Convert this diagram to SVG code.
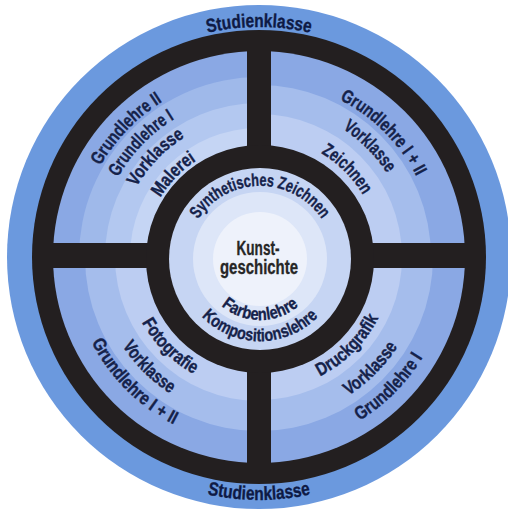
<svg xmlns="http://www.w3.org/2000/svg" xmlns:xlink="http://www.w3.org/1999/xlink" width="508" height="509" viewBox="0 0 508 509">
<style>
.lbl{font-family:"Liberation Sans",Arial,sans-serif;font-weight:bold;fill:#15224a;stroke:#15224a;stroke-width:0.35px;font-size:18.5px}
.inn{font-size:17.5px}
.stud{font-size:19px;fill:#0e1a45;stroke:#0e1a45}
.kg{font-family:"Liberation Sans",Arial,sans-serif;font-weight:bold;fill:#262626;stroke:#262626;stroke-width:0.3px;font-size:19.5px}
.blk{fill:#231f20}
</style>
<defs>
<clipPath id="qUL"><rect x="0" y="0" width="259" height="257"/></clipPath>
<clipPath id="qUR"><rect x="259" y="0" width="249" height="257"/></clipPath>
<clipPath id="qLL"><rect x="0" y="257" width="259" height="252"/></clipPath>
<clipPath id="qLR"><rect x="259" y="257" width="249" height="252"/></clipPath>
<path id="pStudTop" d="M59.8,142 A230,230 0 0 1 458.2,142"/>
<path id="pStudBot" d="M48.6,378.5 A243,243 0 0 0 469.4,378.5"/>
<path id="ul1" d="M79.4,291.9 A183,183 0 0 1 287.6,76.3"/>
<path id="ul2" d="M100,287.9 A162,162 0 0 1 284.3,97"/>
<path id="ul3" d="M120.6,283.9 A141,141 0 0 1 281.1,117.7"/>
<path id="ul4" d="M146.1,278.9 A115,115 0 0 1 277,143.4"/>
<path id="ur1" d="M228.3,82.7 A177,177 0 0 1 433.3,287.7"/>
<path id="ur2" d="M232.4,106.3 A153,153 0 0 1 409.7,283.6"/>
<path id="ur3" d="M238,137.8 A121,121 0 0 1 378.2,278"/>
<path id="lr1" d="M235.7,389 A134,134 0 0 0 391,233.7"/>
<path id="lr2" d="M230.4,419.5 A165,165 0 0 0 421.5,228.4"/>
<path id="lr3" d="M225.7,446.1 A192,192 0 0 0 448.1,223.7"/>
<path id="ll1" d="M127,233.7 A134,134 0 0 0 282.3,389"/>
<path id="ll2" d="M98.5,228.7 A163,163 0 0 0 287.3,417.5"/>
<path id="ll3" d="M73.9,224.4 A188,188 0 0 0 291.6,442.1"/>
<path id="iSyn" d="M187.1,247.2 A74,74 0 0 1 332.9,247.2"/>
<path id="iFar" d="M200.9,270.4 A60,60 0 0 0 319.1,270.4"/>
<path id="iKom" d="M180.2,274.1 A81,81 0 0 0 339.8,274.1"/>
</defs>

<g id="studienklasse">
<circle cx="259" cy="257" r="252" fill="#6b99de"/>
<circle cx="259" cy="257" r="227" class="blk"/>
<text class="lbl stud" text-anchor="middle"><textPath xlink:href="#pStudTop" startOffset="50%" textLength="104" lengthAdjust="spacingAndGlyphs">Studienklasse</textPath></text>
<text class="lbl stud" text-anchor="middle"><textPath xlink:href="#pStudBot" startOffset="50%" textLength="104" lengthAdjust="spacingAndGlyphs">Studienklasse</textPath></text>
</g>

<g id="quadrant-upper-left" clip-path="url(#qUL)">
<circle cx="259" cy="257" r="206" fill="#8aa8e4"/>
<circle cx="259" cy="257" r="180" fill="#9fb9ea"/>
<circle cx="259" cy="257" r="154" fill="#b3c8f0"/>
<circle cx="259" cy="257" r="129" fill="#c5d5f4"/>
</g>
<g id="quadrant-upper-right" clip-path="url(#qUR)">
<circle cx="259" cy="257" r="206" fill="#8aa8e4"/>
<circle cx="259" cy="257" r="172" fill="#a5bdec"/>
<circle cx="259" cy="257" r="143" fill="#bccdf2"/>
</g>
<g id="quadrant-lower-left" clip-path="url(#qLL)">
<circle cx="259" cy="257" r="206" fill="#8aa8e4"/>
<circle cx="259" cy="257" r="174" fill="#a5bdec"/>
<circle cx="259" cy="257" r="144" fill="#bccdf2"/>
</g>
<g id="quadrant-lower-right" clip-path="url(#qLR)">
<circle cx="259" cy="257" r="206" fill="#8aa8e4"/>
<circle cx="259" cy="257" r="174" fill="#a5bdec"/>
<circle cx="259" cy="257" r="143" fill="#bccdf2"/>
</g>

<g id="connectors">
<rect x="247" y="40" width="24" height="434" class="blk"/>
<rect x="40" y="243" width="438" height="25" class="blk"/>
</g>

<g id="core">
<circle cx="260" cy="259" r="114" class="blk"/>
<circle cx="260" cy="259" r="91" fill="#c6d5f3"/>
<circle cx="260" cy="259" r="67" fill="#dde6f8"/>
<circle cx="260" cy="259" r="47" fill="#eef2fb"/>
</g>

<g id="labels-upper-left">
<text class="lbl" text-anchor="middle"><textPath xlink:href="#ul1" startOffset="50%" textLength="90" lengthAdjust="spacingAndGlyphs">Grundlehre II</textPath></text>
<text class="lbl" text-anchor="middle"><textPath xlink:href="#ul2" startOffset="50%" textLength="82" lengthAdjust="spacingAndGlyphs">Grundlehre I</textPath></text>
<text class="lbl" text-anchor="middle"><textPath xlink:href="#ul3" startOffset="50%" textLength="70" lengthAdjust="spacingAndGlyphs">Vorklasse</textPath></text>
<text class="lbl" text-anchor="middle"><textPath xlink:href="#ul4" startOffset="50%" textLength="52" lengthAdjust="spacingAndGlyphs">Malerei</textPath></text>
</g>
<g id="labels-upper-right">
<text class="lbl" text-anchor="middle"><textPath xlink:href="#ur1" startOffset="50%" textLength="110" lengthAdjust="spacingAndGlyphs">Grundlehre I + II</textPath></text>
<text class="lbl" text-anchor="middle"><textPath xlink:href="#ur2" startOffset="50%" textLength="63" lengthAdjust="spacingAndGlyphs">Vorklasse</textPath></text>
<text class="lbl" text-anchor="middle"><textPath xlink:href="#ur3" startOffset="50%" textLength="60" lengthAdjust="spacingAndGlyphs">Zeichnen</textPath></text>
</g>
<g id="labels-lower-right">
<text class="lbl" text-anchor="middle"><textPath xlink:href="#lr1" startOffset="50%" textLength="84" lengthAdjust="spacingAndGlyphs">Druckgrafik</textPath></text>
<text class="lbl" text-anchor="middle"><textPath xlink:href="#lr2" startOffset="50%" textLength="70" lengthAdjust="spacingAndGlyphs">Vorklasse</textPath></text>
<text class="lbl" text-anchor="middle"><textPath xlink:href="#lr3" startOffset="50%" textLength="90" lengthAdjust="spacingAndGlyphs">Grundlehre I</textPath></text>
</g>
<g id="labels-lower-left">
<text class="lbl" text-anchor="middle"><textPath xlink:href="#ll1" startOffset="50%" textLength="74" lengthAdjust="spacingAndGlyphs">Fotografie</textPath></text>
<text class="lbl" text-anchor="middle"><textPath xlink:href="#ll2" startOffset="50%" textLength="68" lengthAdjust="spacingAndGlyphs">Vorklasse</textPath></text>
<text class="lbl" text-anchor="middle"><textPath xlink:href="#ll3" startOffset="50%" textLength="118" lengthAdjust="spacingAndGlyphs">Grundlehre I + II</textPath></text>
</g>
<g id="labels-core">
<text class="lbl inn" text-anchor="middle"><textPath xlink:href="#iSyn" startOffset="50%" textLength="146" lengthAdjust="spacingAndGlyphs">Synthetisches Zeichnen</textPath></text>
<text class="lbl inn" text-anchor="middle"><textPath xlink:href="#iFar" startOffset="50%" textLength="84" lengthAdjust="spacingAndGlyphs">Farbenlehre</textPath></text>
<text class="lbl inn" text-anchor="middle"><textPath xlink:href="#iKom" startOffset="50%" textLength="130" lengthAdjust="spacingAndGlyphs">Kompositionslehre</textPath></text>
<text class="kg" text-anchor="middle"><tspan x="258" y="255" textLength="43" lengthAdjust="spacingAndGlyphs">Kunst-</tspan><tspan x="259" y="274" textLength="78" lengthAdjust="spacingAndGlyphs">geschichte</tspan></text>
</g>
</svg>
